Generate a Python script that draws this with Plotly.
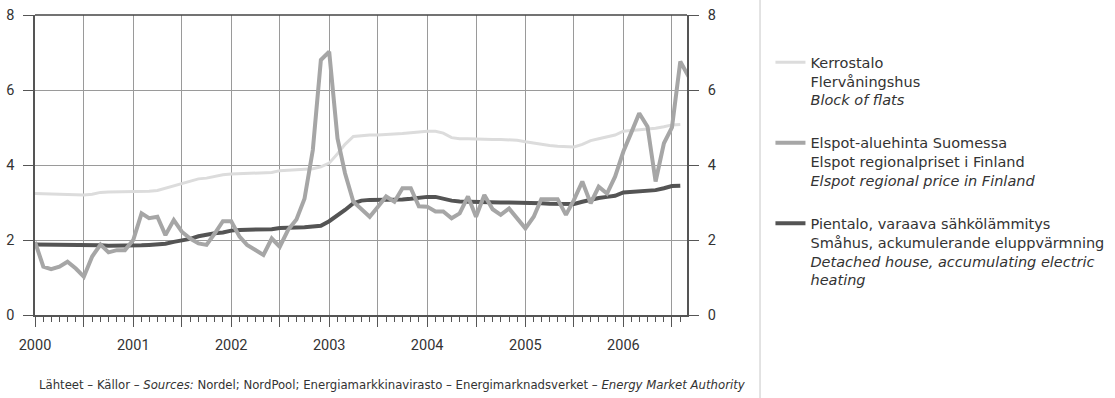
import pandas as pd
import plotly.graph_objects as go

# ---- data (monthly, starting Jan 2000) ----
months_flats = pd.date_range("2000-01-01", periods=80, freq="MS")
months_spot = pd.date_range("2000-01-01", periods=81, freq="MS")

kerrostalo = [3.24, 3.23, 3.23, 3.22, 3.22, 3.21, 3.20, 3.22, 3.27, 3.28,
              3.28, 3.28, 3.29, 3.29, 3.30, 3.32, 3.38, 3.44, 3.50, 3.58,
              3.63, 3.65, 3.70, 3.74, 3.76, 3.77, 3.78, 3.78, 3.79, 3.80,
              3.85, 3.86, 3.87, 3.88, 3.90, 3.95, 4.05, 4.30, 4.55, 4.76,
              4.78, 4.80, 4.80, 4.81, 4.82, 4.84, 4.86, 4.88, 4.90, 4.90,
              4.85, 4.73, 4.70, 4.70, 4.69, 4.69, 4.68, 4.68, 4.67, 4.66,
              4.62, 4.58, 4.55, 4.52, 4.50, 4.50, 4.48, 4.55, 4.65, 4.70,
              4.75, 4.80, 4.90, 4.92, 4.93, 4.95, 4.98, 5.02, 5.07, 5.08]

elspot = [1.95, 1.29, 1.22, 1.29, 1.42, 1.24, 1.02, 1.56, 1.88, 1.67,
          1.73, 1.73, 2.00, 2.71, 2.58, 2.62, 2.13, 2.53, 2.22, 2.04,
          1.91, 1.87, 2.18, 2.50, 2.50, 2.09, 1.87, 1.73, 1.60, 2.04,
          1.82, 2.27, 2.55, 3.10, 4.40, 6.80, 7.02, 4.71, 3.78, 3.02,
          2.84, 2.62, 2.88, 3.16, 3.02, 3.38, 3.38, 2.90, 2.89, 2.76,
          2.76, 2.58, 2.71, 3.16, 2.62, 3.20, 2.82, 2.67, 2.84, 2.58,
          2.31, 2.62, 3.09, 3.09, 3.09, 2.67, 3.07, 3.56, 2.98, 3.42,
          3.24, 3.69, 4.36, 4.89, 5.38, 5.02, 3.56, 4.58, 5.00, 6.76,
          6.36]

pientalo = [1.88, 1.88, 1.88, 1.88, 1.88, 1.88, 1.87, 1.87, 1.86, 1.85,
            1.85, 1.84, 1.85, 1.86, 1.87, 1.88, 1.90, 1.95, 1.99, 2.03,
            2.10, 2.15, 2.18, 2.20, 2.25, 2.27, 2.27, 2.28, 2.28, 2.29,
            2.32, 2.32, 2.33, 2.34, 2.36, 2.38, 2.50, 2.65, 2.80, 2.98,
            3.05, 3.07, 3.07, 3.07, 3.08, 3.08, 3.10, 3.13, 3.15, 3.15,
            3.10, 3.05, 3.03, 3.02, 3.02, 3.01, 3.00, 3.00, 3.00, 3.00,
            3.00, 2.99, 2.98, 2.97, 2.96, 2.95, 2.96, 3.02, 3.08, 3.12,
            3.15, 3.18, 3.27, 3.29, 3.29, 3.31, 3.33, 3.38, 3.44, 3.45]

name_flats = "Kerrostalo<br>Flervåningshus<br><i>Block of flats</i>"
name_spot = "Elspot-aluehinta Suomessa<br>Elspot regionalpriset i Finland<br><i>Elspot regional price in Finland</i>"
name_house = ("Pientalo, varaava sähkölämmitys<br>Småhus, ackumulerande eluppvärmning<br>"
              "<i>Detached house, accumulating electric<br>heating</i>")

x_tickvals = pd.date_range("2000-01-01", "2006-07-01", freq="6MS")
x_ticktext = [str(d.year) if d.month == 1 else "" for d in x_tickvals]
y_ticks = [0, 2, 4, 6, 8]

source_text = ("Lähteet – Källor – <i>Sources:</i> Nordel; NordPool; Energiamarkkinavirasto – "
               "Energimarknadsverket – <i>Energy Market Authority</i>")

TICKFONT = dict(family="Roboto, sans-serif", size=14.5, color="#333333")
LEGFONT = dict(family="DejaVu Sans, sans-serif", size=14.5, color="#333333")
SRCFONT = dict(family="DejaVu Sans Condensed, DejaVu Sans, sans-serif", size=13, color="#333333")
AX = "#555555"
GRID = "#9a9a9a"

fig = go.Figure()
fig.add_trace(go.Scatter(x=months_flats, y=kerrostalo, mode="lines", name=name_flats,
                         line=dict(color="#dcdcdc", width=3), legendgroup="a", legendrank=1))
fig.add_trace(go.Scatter(x=months_flats, y=pientalo, mode="lines", name=name_house,
                         line=dict(color="#545454", width=4), legendgroup="c", legendrank=3))
fig.add_trace(go.Scatter(x=months_spot, y=elspot, mode="lines", name=name_spot,
                         line=dict(color="#a6a6a6", width=4), legendgroup="b", legendrank=2,
                         yaxis="y2"))

fig.update_layout(
    width=1115, height=398, autosize=False,
    margin=dict(l=35, r=428, t=15, b=83, autoexpand=False),
    paper_bgcolor="white", plot_bgcolor="white",
    font=TICKFONT,
    showlegend=True,
    legend=dict(x=1.128, xanchor="left", y=0.896, yanchor="top", valign="top",
                font=LEGFONT, tracegroupgap=21, traceorder="grouped",
                bgcolor="rgba(0,0,0,0)"),
    xaxis=dict(type="date", range=["2000-01-01", "2006-08-26"], automargin=False,
               tickmode="array", tickvals=x_tickvals, ticktext=x_ticktext,
               ticks="outside", ticklen=10, tickcolor=AX, tickwidth=1,
               showgrid=True, gridcolor=GRID, gridwidth=1,
               showline=True, linecolor=AX, linewidth=1.5, mirror=False,
               zeroline=False, ticklabelstandoff=6, tickfont=TICKFONT,
               minor=dict(dtick="M1", tick0="2000-01-01", ticks="outside", ticklen=5,
                          tickcolor=AX, showgrid=False)),
    yaxis=dict(range=[0, 8], tickvals=y_ticks, ticks="outside", ticklen=10, automargin=False,
               tickcolor=AX, showgrid=True, gridcolor=GRID, gridwidth=1,
               showline=True, linecolor=AX, linewidth=1.5, zeroline=False,
               ticklabelstandoff=6, tickfont=TICKFONT),
    yaxis2=dict(range=[0, 8], tickvals=y_ticks, ticks="outside", ticklen=10, automargin=False,
                tickcolor=AX, overlaying="y", side="right", showgrid=False,
                showline=True, linecolor=AX, linewidth=1.5, zeroline=False,
                ticklabelstandoff=6, tickfont=TICKFONT),
    shapes=[
        dict(type="line", xref="paper", yref="paper", x0=0, x1=1, y0=1, y1=1,
             line=dict(color="#444444", width=1.5)),
        dict(type="line", xref="paper", yref="paper", x0=1.112, x1=1.112, y0=-0.3, y1=1.06,
             line=dict(color="#c8c8c8", width=1)),
    ],
    annotations=[
        dict(text=source_text, xref="paper", yref="paper", x=0.003, y=-0.233,
             xanchor="left", yanchor="middle", showarrow=False, font=SRCFONT),
    ],
)

fig.write_html(
    "out.html",
    config={"responsive": False, "displayModeBar": False},
    post_script="document.body.style.margin='0';document.body.style.overflow='hidden';",
)
